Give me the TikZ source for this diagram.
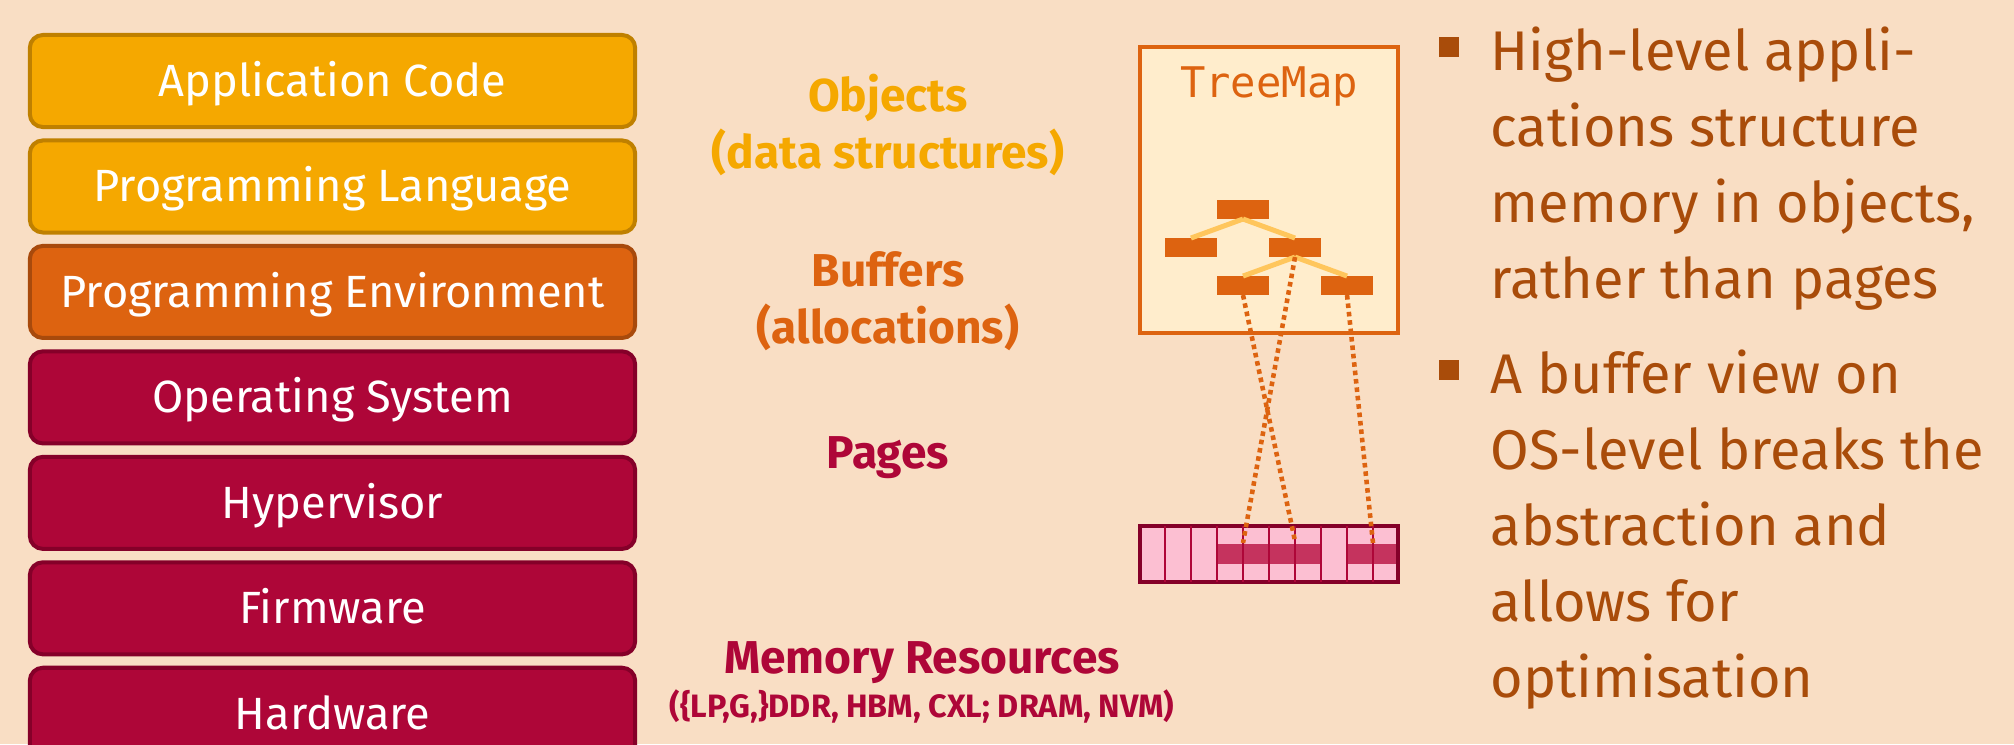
\documentclass[tikz,border=0pt]{standalone}
\usepackage{fontspec}
\setmainfont{Fira Sans}
\newfontfamily\mapfont{DejaVu Sans Mono}
\usetikzlibrary{positioning}

\definecolor{pagebg}{HTML}{F9DEC4}
\definecolor{appyellow}{HTML}{F5A800}
\definecolor{appyellowdark}{HTML}{BF8000}
\definecolor{envorange}{HTML}{DD6310}
\definecolor{envorangedark}{HTML}{A84A0C}
\definecolor{sysred}{HTML}{AE0638}
\definecolor{sysreddark}{HTML}{850029}
\definecolor{mapcream}{HTML}{FFEDCC}
\definecolor{edgeyellow}{HTML}{FFC65C}
\definecolor{pagepink}{HTML}{FCBFD2}
\definecolor{pageband}{HTML}{C5335E}
\definecolor{itembrown}{HTML}{A94C0A}

\begin{document}
\begin{tikzpicture}[x=0.01cm, y=-0.01cm,
node distance=0.094cm,
layer/.style={rounded corners=0.13cm, line width=0.04cm, minimum width=6.05cm, minimum height=0.92cm,
  text=white, text height=8.8pt, text depth=0pt, font=\fontsize{12.85pt}{16pt}\selectfont},
yellowlayer/.style={layer, fill=appyellow, draw=appyellowdark},
orangelayer/.style={layer, fill=envorange, draw=envorangedark},
redlayer/.style={layer, fill=sysred, draw=sysreddark},
viewlabel/.style={anchor=base, align=center, inner sep=0, font=\bfseries\fontsize{13.1pt}{16.2pt}\selectfont},
treenode/.style={fill=envorange, minimum width=0.52cm, minimum height=0.19cm, inner sep=0, outer sep=0},
treeedge/.style={edgeyellow, line width=0.05cm},
mapping/.style={envorange, line width=1.3pt, dash pattern=on 1.3pt off 1.1pt},
bulletbox/.style={fill=itembrown, minimum size=0.2cm, inner sep=0},
itemtext/.style={anchor=base west, align=left, inner sep=0, text=itembrown, font=\fontsize{15.9pt}{21.6pt}\selectfont},
]
\path[use as bounding box, fill=pagebg] (0,0) rectangle (2014,744);
\clip (0,0) rectangle (2014,744);

%Layers
\node[yellowlayer]                (app)  at (332.5,81) {Application Code};
\node[yellowlayer, below=of app]  (lang) {Programming Language};
\node[orangelayer, below=of lang] (env)  {Programming Environment};
\node[redlayer, below=of env]     (os)   {Operating System};
\node[redlayer, below=of os]      (hyp)  {Hypervisor};
\node[redlayer, below=of hyp]     (fw)   {Firmware};
\node[redlayer, below=of fw]      (hw)   {Hardware};

%Views (base = last line)
\node[viewlabel, text=appyellow] (objects) at (888,168) {Objects\\(data structures)};
\node[viewlabel, text=envorange] (buffers) at (888,343) {Buffers\\(allocations)};
\node[viewlabel, text=sysred]    (pages)   at (888,468) {Pages};
\node[viewlabel, text=sysred]    (memory)  at (922,673) {Memory Resources};
\node[viewlabel, text=sysred, font=\bfseries\fontsize{9.2pt}{10pt}\selectfont] (memkinds) at (922,717)
  {(\{LP,G,\}DDR, HBM, CXL; DRAM, NVM)};

%TreeMap
\node[draw=envorange, fill=mapcream, line width=0.04cm, minimum width=2.58cm, minimum height=2.86cm, inner sep=0] (treemap) at (1269,190) {};
\node[anchor=base, inner sep=0, text=envorange, font=\mapfont\fontsize{12pt}{14pt}\selectfont] (maplabel) at (1269,97) {TreeMap};

\node[treenode] (root) at (1243,209.5) {};
\node[treenode, below left=0.19cm and 0cm of root]  (lft)  {};
\node[treenode, below right=0.19cm and 0cm of root] (rgt)  {};
\node[treenode, below left=0.19cm and 0cm of rgt]   (rgtl) {};
\node[treenode, below right=0.19cm and 0cm of rgt]  (rgtr) {};

\draw[treeedge] (root.south) -- (lft.north);
\draw[treeedge] (root.south) -- (rgt.north);
\draw[treeedge] (rgt.south) -- (rgtl.north);
\draw[treeedge] (rgt.south) -- (rgtr.north);

%Pages
\node[draw=sysreddark, fill=pagepink, line width=0.035cm, minimum width=2.58cm, minimum height=0.56cm, inner sep=0] (strip) at (1269,554) {};
\fill[pageband] (1217,544) rectangle (1321,564);
\fill[pageband] (1347,544) rectangle (1396,564);
\foreach \x in {1165,1191,...,1373}
  \draw[sysred, line width=0.02cm] (\x,526) -- (\x,582);

\coordinate (pg1) at (1243,543);
\coordinate (pg2) at (1295,541);
\coordinate (pg3) at (1373,543);
\draw[mapping] (rgt.south) -- (pg1);
\draw[mapping] (rgtl.south) -- (pg2);
\draw[mapping] (rgtr.south) -- (pg3);

%Bullets (base = last line)
\node[bulletbox] (dot1) at (1449,46.5) {};
\node[bulletbox] (dot2) at (1449,369.5) {};
\node[itemtext] (item1) at (1490,298) {High-level appli-\\cations structure\\memory in objects,\\rather than pages};
\node[itemtext] (item2) at (1490,697) {A buffer view on\\OS-level breaks the\\abstraction and\\allows for\\optimisation};

\end{tikzpicture}
\end{document}
